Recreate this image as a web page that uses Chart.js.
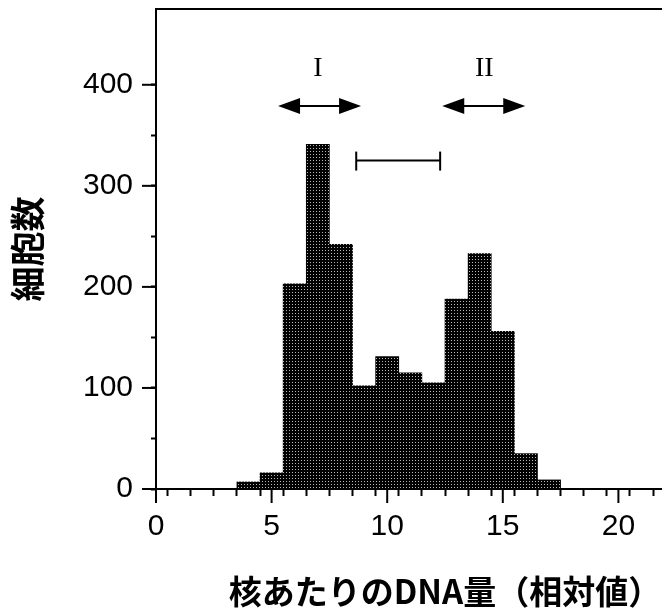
<!DOCTYPE html>
<html>
<head>
<meta charset="utf-8">
<script src="https://cdn.jsdelivr.net/npm/chart.js@4.4.1/dist/chart.umd.min.js"></script>
<style>
  html, body { margin: 0; padding: 0; background: #fff; overflow: hidden; width: 662px; height: 608px; }
  #wrap { position: relative; width: 734px; height: 608px; }
</style>
</head>
<body>
<div id="wrap"><canvas id="c"></canvas></div>
<script>
// ---- data ----
const binCenters = [4, 5, 6, 7, 8, 9, 10, 11, 12, 13, 14, 15, 16, 17];
const cellCounts = [7, 16, 203, 341, 242, 102, 131, 115, 105, 188, 233, 156, 35, 9];
const xTickLabels = [0, 5, 10, 15, 20, 25];
const yTickLabels = [0, 100, 200, 300, 400];
const xTitle = '核あたりのDNA量（相対値）';
const yTitle = '細胞数';
// annotations (data units)
const phaseNames = ['I', 'II'];
const phaseNameX = [7.0, 14.2];
const phaseNameY = 416;
const phaseArrows = [[5.28, 8.87], [12.38, 15.97]];
const phaseArrowY = 379;
const scaleBarRange = [8.66, 12.29];
const scaleBarY = 325;

const canvas = document.getElementById('c');
const ctx0 = canvas.getContext('2d');
const pc = document.createElement('canvas');
pc.width = 3; pc.height = 3;
const pcx = pc.getContext('2d');
pcx.fillStyle = '#000'; pcx.fillRect(0, 0, 3, 3);
pcx.fillStyle = '#b8b8b8'; pcx.fillRect(1, 1, 1, 1);
const dotPattern = ctx0.createPattern(pc, 'repeat');

const decor = {
  id: 'decor',
  afterDraw(chart) {
    const { ctx, chartArea: a, scales: { x, y } } = chart;
    ctx.save();
    ctx.strokeStyle = '#000';
    ctx.fillStyle = '#000';
    ctx.lineWidth = 2;
    const line = (x1, y1, x2, y2) => { ctx.beginPath(); ctx.moveTo(x1, y1); ctx.lineTo(x2, y2); ctx.stroke(); };
    // top frame
    line(a.left - 1, a.top, a.right, a.top);
    // major ticks
    x.ticks.forEach(t => {
      if (xTickLabels.includes(t.value)) { const px = x.getPixelForValue(t.value); line(px, a.bottom, px, a.bottom + 14); }
    });
    y.ticks.forEach(t => {
      if (yTickLabels.includes(t.value)) { const py = y.getPixelForValue(t.value); line(a.left - 14, py, a.left, py); }
    });
    // phase labels
    ctx.font = '28px "Liberation Serif", "DejaVu Serif", serif';
    ctx.textAlign = 'center';
    ctx.textBaseline = 'middle';
    phaseNames.forEach((n, i) => ctx.fillText(n, x.getPixelForValue(phaseNameX[i]), y.getPixelForValue(phaseNameY)));
    // double arrows
    const hl = 22, hh = 8;
    phaseArrows.forEach(([v1, v2]) => {
      const x1 = x.getPixelForValue(v1), x2 = x.getPixelForValue(v2), py = y.getPixelForValue(phaseArrowY);
      line(x1 + hl - 2, py, x2 - hl + 2, py);
      ctx.beginPath(); ctx.moveTo(x1, py); ctx.lineTo(x1 + hl, py - hh); ctx.lineTo(x1 + hl, py + hh); ctx.closePath(); ctx.fill();
      ctx.beginPath(); ctx.moveTo(x2, py); ctx.lineTo(x2 - hl, py - hh); ctx.lineTo(x2 - hl, py + hh); ctx.closePath(); ctx.fill();
    });
    // scale bar
    const s1 = x.getPixelForValue(scaleBarRange[0]), s2 = x.getPixelForValue(scaleBarRange[1]), sy = y.getPixelForValue(scaleBarY);
    line(s1, sy, s2, sy);
    line(s1, sy - 9, s1, sy + 10);
    line(s2, sy - 9, s2, sy + 10);
    ctx.restore();
  }
};

new Chart(canvas, {
  type: 'bar',
  data: {
    datasets: [{
      data: binCenters.map((c, i) => ({ x: c, y: cellCounts[i] })),
      backgroundColor: dotPattern,
      borderWidth: 0,
      barPercentage: 1.0,
      categoryPercentage: 1.0
    }]
  },
  options: {
    responsive: true,
    maintainAspectRatio: false,
    animation: false,
    events: [],
    layout: { padding: { top: 9, right: 0, left: 0, bottom: 0 } },
    plugins: { legend: { display: false }, tooltip: { enabled: false } },
    scales: {
      x: {
        type: 'linear',
        min: 0, max: 25,
        offset: false,
        afterFit(s) { s.height = 119; s.paddingLeft = 0; s.paddingRight = 0; },
        border: { display: true, color: '#000', width: 2 },
        grid: { display: true, drawOnChartArea: false, tickLength: 7, tickColor: '#000', tickWidth: 2 },
        ticks: {
          stepSize: 1, autoSkip: false, maxRotation: 0, padding: 13,
          color: '#000',
          font: { family: '"Liberation Sans", Arial, sans-serif', size: 30 },
          callback: v => xTickLabels.includes(v) ? String(v) : ''
        },
        title: {
          display: true, text: xTitle, color: '#000',
          font: { family: '"Noto Sans CJK JP", sans-serif', size: 33, weight: 'bold', lineHeight: 1 },
          padding: { top: 0, bottom: 0 }
        }
      },
      y: {
        min: 0, max: 475,
        afterFit(s) { s.width = 156; s.paddingTop = 0; s.paddingBottom = 0; },
        afterBuildTicks(s) { s.ticks = s.ticks.filter(t => t.value % 50 === 0 && t.value <= 450); },
        border: { display: true, color: '#000', width: 2 },
        grid: { display: true, drawOnChartArea: false, tickLength: 5, tickColor: '#000', tickWidth: 2 },
        ticks: {
          stepSize: 50, autoSkip: false, padding: 18,
          color: '#000',
          font: { family: '"Liberation Sans", Arial, sans-serif', size: 30 },
          callback: v => yTickLabels.includes(v) ? String(v) : ''
        },
        title: {
          display: true, text: yTitle, color: '#000',
          font: { family: '"Noto Sans CJK JP", sans-serif', size: 35, weight: 'bold', lineHeight: 1 },
          padding: { top: 10, bottom: 0 }
        }
      }
    }
  },
  plugins: [decor]
});
</script>
</body>
</html>
